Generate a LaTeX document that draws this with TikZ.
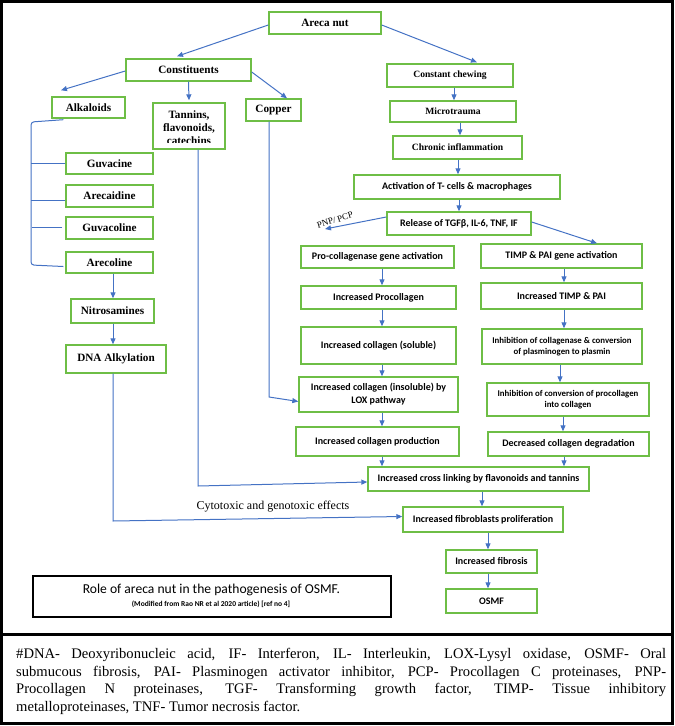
\documentclass[tikz,border=0pt]{standalone}
\usepackage{fontspec}
\setmainfont{Liberation Serif}
\newfontfamily\calfont{Carlito}
\usetikzlibrary{arrows.meta,calc}
\definecolor{gbord}{RGB}{110,190,70}
\definecolor{barr}{RGB}{68,114,196}
\tikzset{
  gbox/.style={draw=gbord, line width=1.4pt, inner sep=1pt, align=center},
  sbox/.style={gbox, font=\fontsize{11.2}{13}\selectfont\bfseries},
  rbox/.style={gbox, font=\fontsize{9.6}{11.5}\selectfont\bfseries},
  cbox/.style={gbox, font=\calfont\fontsize{10}{13}\selectfont\bfseries},
  csmall/.style={gbox, font=\calfont\fontsize{8.8}{11.5}\selectfont\bfseries},
  arr/.style={draw=barr, line width=1pt, -{Triangle[length=6pt,width=5pt]}},
  ln/.style={draw=barr, line width=1pt},
}
\begin{document}
\begin{tikzpicture}[x=1pt,y=-1pt]
\useasboundingbox (0,0) rectangle (675,726);
\draw[line width=3pt] (1.5,1.5) rectangle (672,723.5);
\draw[line width=3pt] (1.5,634) -- (672,634);

% left part
\node[sbox,minimum width=112pt,minimum height=22pt] (areca) at (325,23) {Areca nut};
\node[sbox,minimum width=125pt,minimum height=22pt] (const) at (188.5,70) {Constituents};
\node[sbox,minimum width=73pt,minimum height=21pt] (alk) at (88.5,107.5) {Alkaloids};
\node[gbox,minimum width=72pt,minimum height=46pt] (tann) at (189,126) {};
\begin{scope}
\clip (153,103) rectangle (225,142);
\node[anchor=north, inner sep=0pt, align=center, font=\fontsize{11.2}{13}\selectfont\bfseries] (tanntext) at (189,111) {Tannins,\\flavonoids,\\catechins};
\end{scope}
\node[sbox,minimum width=55pt,minimum height=22pt] (copper) at (273.5,110) {Copper};
\node[sbox,minimum width=87pt,minimum height=21pt] (guv) at (109.5,163.5) {Guvacine};
\node[sbox,minimum width=87pt,minimum height=22pt] (arecaid) at (109.5,196) {Arecaidine};
\node[sbox,minimum width=87pt,minimum height=22pt] (guvacol) at (109.5,228) {Guvacoline};
\node[sbox,minimum width=87pt,minimum height=21pt] (arecol) at (109.5,262.5) {Arecoline};
\node[sbox,minimum width=83pt,minimum height=24pt] (nitro) at (112.5,311) {Nitrosamines};
\node[sbox,minimum width=100pt,minimum height=28pt] (dna) at (116,359) {DNA Alkylation};

% right part
\node[rbox,minimum width=126pt,minimum height=23pt] (chew) at (450,75.5) {Constant chewing};
\node[rbox,minimum width=126pt,minimum height=21pt] (micro) at (453,111.5) {Microtrauma};
\node[rbox,minimum width=129pt,minimum height=23pt] (chronic) at (457.5,147.5) {Chronic inflammation};
\node[cbox,minimum width=206pt,minimum height=24pt] (act) at (457,187) {Activation of T- cells \& macrophages};
\node[cbox,minimum width=144pt,minimum height=23pt] (release) at (459,223.5) {Release of TGFβ, IL-6, TNF, IF};
\node[cbox,minimum width=153pt,minimum height=22pt] (procoll) at (377.5,257) {Pro-collagenase gene activation};
\node[cbox,minimum width=161pt,minimum height=24pt] (timpgene) at (561.5,256) {TIMP \& PAI gene activation};
\node[cbox,minimum width=155pt,minimum height=23pt] (incproc) at (378.5,297.5) {Increased Procollagen};
\node[cbox,minimum width=161pt,minimum height=26pt] (inctimp) at (561.5,296) {Increased TIMP \& PAI};
\node[cbox,minimum width=155pt,minimum height=37pt] (soluble) at (378.5,345.5) {Increased collagen (soluble)};
\node[csmall,minimum width=160pt,minimum height=35pt] (inhib1) at (562,346.5) {Inhibition of collagenase \& conversion\\of plasminogen to plasmin};
\node[cbox,minimum width=159pt,minimum height=35pt] (insol) at (378.5,394.5) {Increased collagen (insoluble) by\\LOX pathway};
\node[csmall,minimum width=162pt,minimum height=33pt] (inhib2) at (568,399.5) {Inhibition of conversion of procollagen\\into collagen};
\node[cbox,minimum width=163pt,minimum height=29pt] (prod) at (377.5,441.5) {Increased collagen production};
\node[cbox,minimum width=161pt,minimum height=24pt] (decr) at (568.5,444) {Decreased collagen degradation};
\node[cbox,minimum width=221pt,minimum height=24pt] (cross) at (478.5,479) {Increased cross linking by flavonoids and tannins};
\node[cbox,minimum width=160pt,minimum height=25pt] (fibro) at (483,519.5) {Increased fibroblasts proliferation};
\node[cbox,minimum width=91pt,minimum height=23pt] (fibrosis) at (491.5,561.5) {Increased fibrosis};
\node[cbox,minimum width=91pt,minimum height=24pt] (osmf) at (491.5,601) {OSMF};

% labels
\node[font=\fontsize{9}{10}\selectfont, rotate=17, inner sep=0pt] (pnp) at (335,220) {PNP/ PCP};
\node[font=\fontsize{12}{14}\selectfont, inner sep=0pt] (cyto) at (273,507) {Cytotoxic and genotoxic effects};

% role box
\node[draw=black, line width=1.5pt, minimum width=358pt, minimum height=41pt, inner sep=0pt] (role) at (212,596.5) {};
\node[font=\calfont\fontsize{13.6}{15}\selectfont, inner sep=0pt] (roletitle) at (211.5,590) {Role of areca nut in the pathogenesis of OSMF.};
\node[font=\calfont\bfseries\fontsize{7.5}{9}\selectfont, inner sep=0pt] (rolesub) at (211,604) {(Modified from Rao NR et al 2020 article) [ref no 4]};

% connectors top
\draw[arr] ($(areca.west)+(0,2)$) -- ($(const.north)+(-11.5,-2)$);
\draw[arr] ($(areca.east)+(0,2)$) -- ($(chew.north)+(27,-1)$);
\draw[arr] ($(const.west)+(0,1)$) -- ($(alk.north)+(-27.5,-6)$);
\draw[arr] (const.south) -- ($(tann.north)+(0,-2)$);
\draw[arr] ($(const.east)+(0,2)$) -- ($(copper.north)+(13.5,0)$);

% alkaloid bracket
\coordinate (bkt) at (31,122);
\coordinate (bkb) at (31,265);
\draw[ln, rounded corners=3pt] ($(alk.south west)+(12,1)$) -- (bkt) -- (bkb) -- ($(arecol.west)+(-2,4)$);
\draw[ln] (guv.west) -- (guv.west -| bkt);
\coordinate (aw) at ($(arecaid.west)+(0,4)$);
\draw[ln] (aw) -- (aw -| bkt);
\coordinate (gw) at ($(guvacol.west)+(-3,-1)$);
\draw[ln] (gw) -- ($(gw -| bkt)+(1,0)$);

% left chain
\draw[arr] ([xshift=3.5pt]arecol.south) -- ([xshift=3.5pt]arecol.south |- nitro.north);
\draw[arr] ([xshift=0.5pt]nitro.south) -- ([xshift=0.5pt]nitro.south |- dna.north);
\coordinate (dnac) at (113,521);
\draw[arr] ([xshift=-3pt]dna.south) -- (dnac) -- ($(fibro.west)+(0,-3)$);
\coordinate (tnc) at (198,486);
\draw[arr] ([xshift=9pt]tann.south) -- (tnc) -- ($(cross.west)+(0,3)$);
\coordinate (cpc) at (269,397);
\draw[arr] ([xshift=-4.5pt]copper.south) -- (cpc) -- ($(insol.west)+(0,7)$);

% right chain
\draw[arr] ([xshift=4pt]chew.south) -- ([xshift=4pt]chew.south |- micro.north);
\draw[arr] ([xshift=7pt]micro.south) -- ([xshift=7pt]micro.south |- chronic.north);
\draw[arr] ([xshift=0.5pt]chronic.south) -- ([xshift=0.5pt]chronic.south |- act.north);
\draw[arr] ([xshift=2pt]act.south) -- ([xshift=2pt]act.south |- release.north);
\coordinate (pnpend) at (325,229);
\draw[arr] ([yshift=6.5pt]release.west) -- (pnpend);
\draw[arr] ([yshift=1.5pt]release.east) -- ([xshift=35.5pt]timpgene.north);

\draw[arr] ([xshift=4.5pt]procoll.south) -- ([xshift=4.5pt]procoll.south |- incproc.north);
\draw[arr] ([xshift=3.5pt]incproc.south) -- ([xshift=3.5pt]incproc.south |- soluble.north);
\draw[arr] ([xshift=3.5pt]soluble.south) -- ([xshift=3.5pt]soluble.south |- insol.north);
\draw[arr] ([xshift=3.5pt]insol.south) -- ([xshift=3.5pt]insol.south |- prod.north);
\draw[arr] ([xshift=4.5pt]prod.south) -- ([xshift=4.5pt]prod.south |- cross.north);

\draw[arr] ([xshift=2.5pt]timpgene.south) -- ([xshift=2.5pt]timpgene.south |- inctimp.north);
\draw[arr] ([xshift=2.5pt]inctimp.south) -- ([xshift=2.5pt]inctimp.south |- inhib1.north);
\draw[arr] ([xshift=-2pt]inhib1.south) -- ([xshift=-2pt]inhib1.south |- inhib2.north);
\draw[arr] ([xshift=-5pt]inhib2.south) -- ([xshift=-5pt]inhib2.south |- decr.north);
\draw[arr] ([xshift=-4.5pt]decr.south) -- ([xshift=-4.5pt]decr.south |- cross.north);

\draw[arr] ([xshift=3.5pt]cross.south) -- ([xshift=3.5pt]cross.south |- fibro.north);
\draw[arr] ([xshift=5pt]fibro.south) -- ([xshift=5pt]fibro.south |- fibrosis.north);
\draw[arr] ([xshift=-3.5pt]fibrosis.south) -- ([xshift=-3.5pt]fibrosis.south |- osmf.north);

% caption
\node[anchor=north west, inner sep=0pt, text width=650pt, align=justify, font=\fontsize{14.6}{17.6}\selectfont] (caption) at (16,648) {\#DNA- Deoxyribonucleic acid, IF- Interferon, IL- Interleukin, LOX-Lysyl oxidase, OSMF- Oral\linebreak submucous fibrosis, PAI- Plasminogen activator inhibitor, PCP- Procollagen C proteinases, PNP-\linebreak Procollagen N proteinases, TGF- Transforming growth factor, TIMP- Tissue inhibitory\linebreak metalloproteinases, TNF- Tumor necrosis factor.};
\end{tikzpicture}
\end{document}
